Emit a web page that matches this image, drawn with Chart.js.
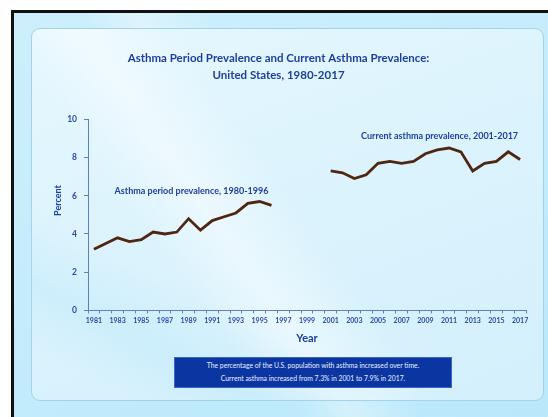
<!DOCTYPE html>
<html>
<head>
<meta charset="utf-8">
<script src="https://cdn.jsdelivr.net/npm/chart.js@4.4.1/dist/chart.umd.min.js"></script>
<style>
  html, body { margin: 0; padding: 0; background: #ffffff; }
  body { width: 548px; height: 417px; position: relative; overflow: hidden; font-family: Lato, sans-serif; }
  #frame {
    position: absolute; left: 11px; top: 10px; width: 545px; height: 420px;
    border-left: 3px solid #111; border-top: 3px solid #111;
    background:
      linear-gradient(62deg, rgba(255,255,255,0) 38%, rgba(255,255,255,0.35) 45%, rgba(255,255,255,0) 55%),
      linear-gradient(155deg, #cdeffc 0%, #c2ebfb 60%, #b9e8fa 100%);
  }
  #panel {
    position: absolute; left: 31px; top: 28px; width: 511px; height: 371px;
    border: 1.5px solid #a3d3ea; border-radius: 9px;
    background:
      linear-gradient(28deg, rgba(255,255,255,0) 8%, rgba(190,232,250,0.45) 18%, rgba(255,255,255,0) 30%),
      linear-gradient(55deg, rgba(255,255,255,0) 30%, rgba(255,255,255,0.45) 40%, rgba(255,255,255,0) 52%),
      linear-gradient(160deg, #e6f7fe 0%, #dbf3fd 50%, #d3f0fc 100%);
  }
  #chart-wrap { position: absolute; left: 0; top: 0; width: 548px; height: 417px; }
  #note {
    position: absolute; left: 174px; top: 357px; width: 276px; height: 28px;
    background: #0b36a2; border: 1px solid #3b64c4;
    color: #e8eeff; font-size: 6.8px; text-align: center; line-height: 13px;
    padding-top: 1px;
  }
</style>
</head>
<body>
<div id="frame"></div>
<div id="panel"></div>
<div id="chart-wrap"><canvas id="asthma-chart" width="548" height="417"></canvas></div>
<div id="note">The percentage of the U.S. population with asthma increased over time.<br>Current asthma increased from 7.3% in 2001 to 7.9% in 2017.</div>

<script>
// x axis categories (one per year)
var years = ['1981', '1982', '1983', '1984', '1985', '1986', '1987', '1988', '1989', '1990',
  '1991', '1992', '1993', '1994', '1995', '1996', '1997', '1998', '1999', '2000',
  '2001', '2002', '2003', '2004', '2005', '2006', '2007', '2008', '2009', '2010',
  '2011', '2012', '2013', '2014', '2015', '2016', '2017'];

// asthma period prevalence, 1980-1996
var periodYears = ['1981', '1982', '1983', '1984', '1985', '1986', '1987', '1988',
  '1989', '1990', '1991', '1992', '1993', '1994', '1995', '1996'];
var periodValues = [3.2, 3.5, 3.8, 3.6, 3.7, 4.1, 4.0, 4.1, 4.8, 4.2, 4.7, 4.9, 5.1, 5.6, 5.7, 5.5];

// current asthma prevalence, 2001-2017
var currentYears = ['2001', '2002', '2003', '2004', '2005', '2006', '2007', '2008', '2009',
  '2010', '2011', '2012', '2013', '2014', '2015', '2016', '2017'];
var currentValues = [7.3, 7.2, 6.9, 7.1, 7.7, 7.8, 7.7, 7.8, 8.2, 8.4, 8.5, 8.3, 7.3, 7.7, 7.8, 8.3, 7.9];

var yTicks = [0, 2, 4, 6, 8, 10];

var blue = '#1d3f9f';
var tickBlue = '#2a4ba6';
var axisColor = '#5e7fc2';
var lineColor = '#4f2612';

// labels drawn next to the two series
var seriesLabels = [
  { text: 'Asthma period prevalence, 1980-1996', year: '1983', value: 6.25, align: 'left', dx: -3 },
  { text: 'Current asthma prevalence, 2001-2017', year: '2017', value: 9.13, align: 'right', dx: -2 }
];

var labelPlugin = {
  id: 'seriesLabels',
  afterDraw: function(chart) {
    var ctx = chart.ctx;
    var xs = chart.scales.x, ys = chart.scales.y;
    ctx.save();
    ctx.fillStyle = blue;
    ctx.font = 'bold 9px Lato';
    ctx.textBaseline = 'middle';
    seriesLabels.forEach(function(l) {
      ctx.textAlign = l.align;
      ctx.fillText(l.text, xs.getPixelForValue(years.indexOf(l.year)) + l.dx, ys.getPixelForValue(l.value));
    });
    // y axis title, sits a bit above the middle of the axis
    ctx.translate(58, ys.getPixelForValue(5.75));
    ctx.rotate(-Math.PI / 2);
    ctx.textAlign = 'center';
    ctx.font = 'bold 9px Lato';
    ctx.fillText('Percent', 0, 0);
    ctx.restore();
  }
};

var ctx = document.getElementById('asthma-chart').getContext('2d');

new Chart(ctx, {
  type: 'line',
  data: {
    labels: years,
    datasets: [
      {
        label: 'Asthma period prevalence',
        data: periodYears.map(function(y, i) { return { x: y, y: periodValues[i] }; }),
        borderColor: lineColor,
        borderWidth: 2.8,
        pointRadius: 0,
        tension: 0
      },
      {
        label: 'Current asthma prevalence',
        data: currentYears.map(function(y, i) { return { x: y, y: currentValues[i] }; }),
        borderColor: lineColor,
        borderWidth: 2.8,
        pointRadius: 0,
        tension: 0
      }
    ]
  },
  options: {
    responsive: false,
    animation: false,
    layout: { padding: { left: 31, right: 22, top: 38, bottom: 72 } },
    plugins: {
      legend: { display: false },
      tooltip: { enabled: false },
      title: {
        display: true,
        text: ['Asthma Period Prevalence and Current Asthma Prevalence:', 'United States, 1980-2017'],
        color: blue,
        font: { family: 'Lato', size: 11.5, weight: 'bold', lineHeight: 1.45 },
        padding: { top: 12, bottom: 36 }
      }
    },
    scales: {
      x: {
        offset: true,
        border: { color: axisColor, width: 1 },
        grid: { offset: true, drawOnChartArea: false, color: axisColor, tickLength: 3 },
        ticks: {
          color: tickBlue,
          font: { family: 'Lato', size: 7, weight: 'bold' },
          autoSkip: false,
          maxRotation: 0,
          padding: 3,
          callback: function(val, i) { return i % 2 === 0 ? years[i] : ''; }
        },
        title: {
          display: true,
          text: 'Year',
          color: blue,
          font: { family: 'Lato', size: 11, weight: 'bold' },
          padding: { top: 4, bottom: 0 }
        }
      },
      y: {
        min: 0,
        max: 10,
        afterBuildTicks: function(scale) { scale.ticks = yTicks.map(function(v) { return { value: v }; }); },
        afterFit: function(scale) { scale.width = 57; },
        border: { color: axisColor, width: 1 },
        grid: { drawOnChartArea: false, color: axisColor, tickLength: 4 },
        ticks: {
          color: tickBlue,
          font: { family: 'Lato', size: 8.5, weight: 'bold' },
          padding: 7
        }
      }
    }
  },
  plugins: [labelPlugin]
});
</script>
</body>
</html>
